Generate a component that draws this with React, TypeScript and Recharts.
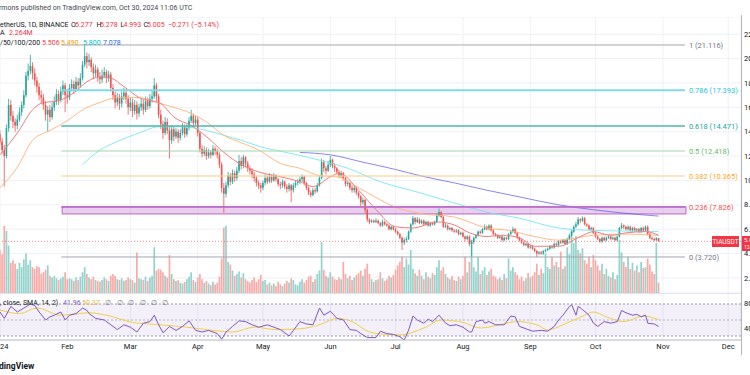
import React from "react"
import {
  ComposedChart,
  Bar,
  Line,
  XAxis,
  YAxis,
  CartesianGrid,
  ReferenceLine,
  ReferenceArea,
} from "recharts"

const FONT = "Roboto, 'Liberation Sans', sans-serif"
const UP = "#26a69a"
const DOWN = "#ef5350"
const RED = "#f23645"

// day index: 0 = Jan 1 2024
const firstOpen = 13.8
const closes = [
  13.2, 12.5, 12.0, 14.3, 16.2, 15.3, 14.8, 14.5, 15.0, 15.6,
  16.2, 17.0, 18.6, 19.0, 19.4, 18.8, 18.2, 17.7, 17.0, 16.8,
  16.2, 15.4, 15.8, 15.2, 16.0, 16.5, 17.1, 16.6, 17.3, 17.8,
  17.0, 16.8, 17.6, 17.9, 17.5, 18.1, 17.8, 18.4, 19.5, 20.2,
  19.7, 19.9, 19.3, 18.8, 19.1, 18.5, 18.3, 18.6, 18.9, 18.4,
  18.7, 17.6, 17.0, 16.4, 16.8, 16.3, 16.9, 17.2, 16.7, 16.0,
  16.4, 15.7, 16.2, 15.5, 16.0, 16.3, 15.8, 16.5, 16.1, 16.7,
  16.9, 17.8, 16.9, 15.4, 14.6, 13.9, 14.8, 14.1, 13.3, 14.2,
  13.6, 14.0, 13.5, 13.9, 14.4, 13.8, 14.3, 14.9, 15.3, 14.7,
  15.0, 13.9, 12.6, 12.2, 12.5, 12.0, 12.3, 12.1, 12.6, 12.4,
  12.1, 11.3, 9.4, 8.9, 9.6, 10.4, 9.9, 10.6, 10.2, 10.8,
  11.6, 11.2, 11.9, 11.4, 11.0, 10.8, 10.5, 10.2, 9.8, 9.6,
  9.4, 9.8, 10.2, 9.9, 10.3, 10.0, 10.4, 10.1, 9.7, 9.6,
  9.9, 9.5, 9.3, 9.6, 9.2, 9.6, 9.8, 9.9, 10.1, 10.3,
  9.8, 9.4, 9.0, 8.8, 9.2, 9.1, 9.6, 10.2, 11.5, 11.0,
  10.8, 11.3, 11.7, 11.2, 11.0, 10.7, 10.4, 10.6, 10.2, 9.7,
  9.8, 9.4, 9.2, 9.4, 9.0, 8.7, 8.2, 8.4, 7.6, 6.8,
  6.6, 6.7, 6.6, 6.7, 6.5, 6.3, 6.6, 6.4, 6.3, 6.0,
  6.2, 6.0, 5.8, 5.6, 5.3, 4.9, 5.1, 5.2, 5.8, 6.4,
  6.9, 6.6, 6.8, 6.5, 6.7, 6.4, 6.6, 6.3, 6.5, 6.4,
  6.6, 7.1, 7.4, 7.0, 6.2, 6.3, 6.0, 6.1, 5.9, 5.8,
  5.9, 5.6, 5.7, 5.4, 5.2, 5.4, 4.8, 4.95, 5.3, 5.5,
  5.8, 5.7, 6.0, 6.2, 6.0, 6.3, 5.9, 5.6, 5.5, 5.3,
  5.4, 5.1, 5.3, 5.2, 5.6, 5.8, 6.0, 5.7, 5.3, 5.1,
  4.9, 4.7, 4.8, 4.5, 4.6, 4.4, 4.2, 4.0, 4.1, 4.0,
  4.2, 4.3, 4.4, 4.6, 4.5, 4.8, 4.7, 5.0, 4.9, 5.1,
  4.8, 5.2, 5.5, 5.8, 6.2, 6.4, 6.8, 6.7, 6.9, 6.4,
  6.3, 6.0, 6.1, 5.7, 5.4, 5.2, 5.0, 5.3, 5.1, 5.3,
  5.4, 5.2, 5.3, 5.1, 5.4, 6.1, 6.3, 6.2, 6.0, 6.2,
  5.9, 6.1, 5.9, 6.0, 5.8, 6.1, 5.9, 6.2, 5.6, 5.3,
  5.2, 5.1, 5.277, 5.005,
]
const highs = [
  14.1, 13.5, 12.9, 14.6, 16.7, 16.6, 15.7, 15.1, 15.4, 16.0,
  16.5, 17.4, 18.9, 19.6, 20.3, 19.7, 19.2, 18.5, 18.0, 17.4,
  17.1, 16.5, 16.1, 16.2, 16.4, 16.9, 17.5, 17.4, 17.7, 18.2,
  18.0, 17.5, 17.9, 18.3, 18.2, 18.5, 18.4, 18.8, 19.8, 21.116,
  20.5, 20.4, 20.1, 19.6, 19.5, 19.3, 18.9, 19.1, 19.3, 19.1,
  19.0, 18.9, 17.9, 17.3, 17.2, 17.1, 17.3, 17.6, 17.5, 17.0,
  16.8, 16.7, 16.6, 16.5, 16.3, 16.7, 16.6, 16.9, 16.8, 17.1,
  17.4, 18.4, 18.0, 17.1, 15.8, 14.9, 15.2, 15.1, 14.4, 14.5,
  14.4, 14.3, 14.2, 14.2, 14.7, 14.6, 14.6, 15.2, 15.8, 15.5,
  15.3, 15.2, 14.0, 12.9, 12.8, 12.7, 12.6, 12.5, 12.9, 12.8,
  12.6, 12.3, 11.5, 9.8, 9.9, 10.7, 10.6, 10.9, 10.8, 11.1,
  12.1, 11.9, 12.1, 12.0, 11.6, 11.2, 11.0, 10.7, 10.4, 10.0,
  9.8, 10.0, 10.5, 10.4, 10.6, 10.5, 10.6, 10.5, 10.2, 9.9,
  10.1, 10.0, 9.7, 9.8, 9.7, 9.8, 10.0, 10.1, 10.3, 10.5,
  10.4, 9.9, 9.5, 9.2, 9.4, 9.4, 9.8, 10.4, 11.8, 11.7,
  11.2, 11.6, 12.0, 11.8, 11.4, 11.1, 10.9, 10.8, 10.7, 10.3,
  10.0, 9.9, 9.6, 9.6, 9.5, 9.1, 8.8, 8.6, 8.5, 7.7,
  6.9, 6.8, 6.8, 6.9, 6.8, 6.6, 6.8, 6.7, 6.5, 6.4,
  6.3, 6.3, 6.1, 5.9, 5.7, 5.4, 5.3, 5.4, 5.9, 6.5,
  7.1, 7.0, 7.0, 6.9, 6.8, 6.8, 6.7, 6.7, 6.6, 6.6,
  6.7, 7.3, 7.7, 7.5, 7.1, 6.5, 6.4, 6.2, 6.2, 6.0,
  6.0, 6.0, 5.8, 5.8, 5.5, 5.5, 5.5, 5.1, 5.4, 5.6,
  5.9, 5.9, 6.1, 6.4, 6.3, 6.4, 6.4, 6.0, 5.7, 5.6,
  5.5, 5.5, 5.4, 5.4, 5.7, 5.9, 6.2, 6.1, 5.8, 5.4,
  5.2, 5.0, 4.9, 4.9, 4.7, 4.7, 4.5, 4.3, 4.2, 4.2,
  4.3, 4.4, 4.5, 4.7, 4.7, 4.9, 4.9, 5.1, 5.1, 5.2,
  5.2, 5.3, 5.6, 5.9, 6.3, 6.6, 7.0, 6.9, 7.05, 7.0,
  6.5, 6.4, 6.2, 6.2, 5.8, 5.5, 5.3, 5.4, 5.4, 5.4,
  5.5, 5.5, 5.4, 5.4, 5.5, 6.2, 6.5, 6.4, 6.3, 6.3,
  6.3, 6.2, 6.2, 6.1, 6.1, 6.2, 6.2, 6.3, 6.3, 5.7,
  5.4, 5.3, 5.35, 5.278,
]
const lows = [
  12.9, 12.2, 9.5, 11.8, 14.0, 14.9, 14.3, 14.0, 14.2, 14.8,
  15.3, 15.9, 16.8, 18.2, 18.7, 18.3, 17.8, 17.2, 16.6, 16.3,
  15.8, 14.9, 14.0, 14.8, 15.0, 15.7, 16.2, 16.2, 16.4, 17.0,
  15.6, 16.3, 16.6, 17.3, 17.1, 17.3, 17.4, 17.6, 18.2, 19.3,
  19.2, 19.4, 18.9, 18.3, 18.5, 18.1, 17.9, 18.0, 18.4, 18.0,
  18.1, 17.3, 16.6, 15.9, 16.1, 15.8, 16.0, 16.6, 16.3, 15.4,
  15.7, 15.2, 15.4, 15.0, 15.2, 15.7, 15.4, 15.6, 15.8, 15.9,
  16.4, 16.7, 16.5, 15.1, 14.2, 13.4, 13.7, 13.8, 11.8, 13.0,
  13.2, 13.4, 13.1, 13.3, 13.7, 13.5, 13.6, 14.1, 14.7, 14.4,
  14.5, 13.6, 12.3, 11.9, 12.0, 11.7, 11.8, 11.8, 12.0, 12.1,
  11.8, 11.0, 9.0, 7.35, 8.6, 9.4, 9.6, 9.7, 9.9, 10.0,
  10.6, 10.9, 11.0, 11.1, 10.7, 10.5, 10.2, 9.9, 9.5, 9.3,
  9.0, 9.2, 9.6, 9.7, 9.8, 9.8, 9.9, 9.9, 9.5, 9.3,
  9.4, 9.3, 9.0, 9.1, 8.2, 9.0, 9.4, 9.6, 9.7, 9.9,
  9.6, 9.2, 8.8, 8.6, 8.7, 8.9, 9.0, 9.5, 10.1, 10.7,
  10.5, 10.7, 11.1, 11.0, 10.7, 10.5, 10.2, 10.2, 10.0, 9.5,
  9.5, 9.2, 9.0, 9.0, 8.8, 8.5, 7.9, 8.0, 7.3, 6.6,
  6.4, 6.5, 6.5, 6.5, 6.4, 6.2, 6.2, 6.3, 6.2, 5.9,
  5.9, 5.9, 5.7, 5.5, 5.2, 4.3, 4.7, 4.9, 5.1, 5.7,
  6.3, 6.4, 6.5, 6.4, 6.4, 6.3, 6.3, 6.2, 6.2, 6.3,
  6.3, 6.5, 7.0, 6.9, 6.1, 6.1, 5.9, 5.9, 5.8, 5.7,
  5.7, 5.5, 5.5, 5.3, 5.0, 5.1, 4.6, 3.75, 4.8, 5.2,
  5.4, 5.6, 5.6, 5.9, 5.9, 5.9, 5.8, 5.5, 5.4, 5.2,
  5.2, 5.0, 5.0, 5.1, 5.1, 5.5, 5.7, 5.6, 5.2, 5.0,
  4.8, 4.6, 4.6, 4.4, 4.4, 4.3, 4.1, 3.72, 3.9, 3.9,
  3.9, 4.1, 4.2, 4.3, 4.4, 4.4, 4.6, 4.6, 4.8, 4.8,
  4.7, 4.7, 5.1, 5.4, 5.7, 6.1, 6.3, 6.5, 6.6, 6.3,
  6.2, 5.9, 5.9, 5.6, 5.3, 5.1, 4.9, 4.9, 5.0, 5.0,
  5.2, 5.1, 5.1, 5.0, 5.0, 5.3, 6.0, 6.0, 5.9, 5.9,
  5.8, 5.8, 5.8, 5.8, 5.7, 5.7, 5.8, 5.8, 5.5, 5.2,
  5.1, 5.0, 5.05, 4.993,
]
// volume, millions
const volumes = [
  5.0, 4.5, 7.8, 7.2, 5.5, 3.5, 3.8, 3.4, 2.8, 3.5,
  3.0, 3.9, 4.6, 3.3, 3.8, 3.0, 2.8, 3.1, 3.0, 2.2,
  2.4, 2.7, 3.2, 2.0, 1.8, 2.0, 1.7, 1.5, 1.7, 1.9,
  2.4, 1.6, 1.7, 1.6, 1.4, 1.8, 1.5, 1.9, 2.4, 3.0,
  2.2, 1.8, 1.6, 1.9, 1.5, 1.4, 1.3, 1.5, 1.8, 1.6,
  1.4, 2.0, 2.2, 2.0, 1.6, 1.5, 1.7, 1.4, 1.5, 1.8,
  1.6, 1.5, 1.2, 4.7, 1.7, 1.6, 1.5, 1.9, 1.4, 1.8,
  2.0, 5.3, 2.6, 2.8, 2.7, 2.4, 2.0, 1.8, 4.4, 2.2,
  1.6, 1.4, 1.5, 1.2, 1.1, 1.3, 1.6, 1.9, 2.4, 1.5,
  1.3, 1.8, 2.2, 1.6, 1.2, 1.4, 1.1, 0.9, 1.3, 1.0,
  1.2, 1.9, 4.0, 7.6, 7.8, 3.6, 3.3, 2.6, 2.0, 2.2,
  2.5, 1.8, 2.3, 1.6, 1.4, 1.2, 1.5, 1.8, 1.3, 1.6,
  2.1, 1.4, 1.5, 1.0, 1.2, 0.9, 1.1, 0.8, 1.3, 1.0,
  0.8, 1.1, 1.4, 1.2, 1.7, 1.5, 1.0, 0.9, 1.3, 1.6,
  1.2, 1.5, 1.9, 2.0, 1.3, 1.6, 2.2, 2.6, 5.9, 2.7,
  2.0, 1.8, 2.4, 1.9, 1.6, 1.5, 1.8, 1.6, 3.6, 2.2,
  1.7, 2.0, 1.5, 1.8, 2.1, 2.3, 2.6, 2.0, 2.8, 3.4,
  2.2, 1.6, 1.3, 1.5, 1.6, 2.4, 1.7, 1.4, 1.6, 2.0,
  1.8, 2.1, 2.7, 3.2, 3.6, 4.2, 3.0, 4.0, 3.3, 5.0,
  2.8, 2.3, 2.0, 2.7, 2.0, 1.6, 2.4, 1.9, 1.7, 2.3,
  2.1, 3.0, 3.8, 2.6, 3.0, 2.2, 1.8, 1.6, 2.0, 1.5,
  1.4, 1.9, 1.6, 2.0, 4.2, 2.4, 3.6, 6.2, 3.0, 2.5,
  4.2, 2.2, 2.6, 3.0, 2.1, 2.5, 2.8, 2.0, 1.9, 1.6,
  1.8, 1.5, 2.2, 1.7, 4.0, 2.6, 3.0, 2.4, 2.1, 1.6,
  1.9, 1.4, 1.7, 2.3, 1.8, 2.0, 2.4, 3.4, 2.1, 2.8,
  2.3, 4.6, 3.0, 2.8, 4.2, 3.2, 3.6, 3.0, 4.8, 2.8,
  3.1, 5.3, 4.5, 7.3, 5.8, 6.6, 5.0, 4.6, 5.2, 3.8,
  3.4, 4.2, 3.0, 4.4, 3.8, 3.2, 2.6, 3.4, 2.2, 2.8,
  2.0, 1.8, 2.4, 1.6, 2.1, 6.2, 4.7, 3.6, 3.0, 4.2,
  2.8, 3.5, 2.6, 3.2, 2.4, 3.6, 2.9, 3.0, 4.0, 3.3,
  2.5, 2.2, 5.8, 1.2,
]

// moving averages (day, value)
const ma20Days = [0, 8, 15, 20, 26, 34, 40, 46, 51, 57, 64, 74, 80, 88, 95, 103, 111, 119, 129, 138, 144, 152, 156, 165, 173, 182, 190, 201, 209, 216, 224, 231, 239, 246, 257, 267, 273, 281, 288, 297, 303]
const ma20Vals = [12.1, 13.9, 15.8, 16.4, 16.5, 17.2, 18.1, 18.5, 18.4, 17.7, 16.8, 16.3, 15.2, 14.5, 13.6, 12.3, 11.3, 10.7, 10.3, 9.9, 9.5, 10.3, 10.6, 9.2, 7.6, 6.2, 6.1, 6.6, 6.35, 5.7, 5.4, 5.5, 5.3, 4.6, 4.6, 5.4, 5.8, 5.5, 5.7, 5.8, 5.506]
const ma50Days = [0, 8, 15, 23, 31, 38, 46, 54, 64, 72, 80, 88, 95, 103, 111, 119, 129, 138, 147, 155, 164, 173, 182, 193, 209, 224, 234, 246, 257, 273, 288, 303]
const ma50Vals = [9.4, 11.1, 13.3, 14.1, 14.9, 15.8, 16.4, 16.8, 16.8, 16.4, 16.0, 15.5, 14.8, 13.7, 13.1, 12.5, 11.4, 11.0, 10.4, 10.3, 9.5, 8.6, 7.8, 7.3, 7.0, 6.1, 5.9, 5.4, 5.1, 5.5, 5.6, 5.49]
const ma100Days = [38, 46, 54, 64, 73, 84, 95, 103, 111, 120, 129, 144, 160, 175, 193, 209, 224, 239, 257, 273, 288, 303]
const ma100Vals = [11.3, 12.5, 13.2, 13.9, 14.4, 14.4, 14.1, 13.7, 13.3, 12.75, 12.4, 11.8, 11.0, 9.9, 9.0, 8.15, 7.4, 6.9, 6.1, 5.9, 5.85, 5.8]
const ma200Days = [138, 152, 167, 182, 193, 209, 224, 239, 257, 273, 288, 303]
const ma200Vals = [12.3, 12.1, 11.5, 10.9, 10.4, 9.8, 9.2, 8.65, 8.0, 7.6, 7.3, 7.078]

// RSI(14) and its SMA
const rsiDays = [0, 2, 5, 8, 11, 14, 16, 18, 21, 23, 25, 28, 30, 32, 35, 38, 40, 41, 44, 48, 51, 54, 57, 60, 63, 66, 69, 71, 73, 75, 78, 81, 84, 87, 90, 93, 96, 100, 102, 104, 107, 110, 113, 116, 119, 123, 126, 129, 133, 135, 138, 141, 144, 147, 149, 152, 155, 158, 161, 164, 166, 169, 173, 175, 178, 181, 184, 186, 188, 190, 192, 195, 197, 199, 202, 205, 207, 210, 213, 216, 217, 219, 222, 223, 225, 228, 232, 235, 237, 239, 242, 245, 249, 252, 255, 257, 259, 262, 263, 265, 266, 268, 271, 273, 275, 278, 281, 284, 286, 288, 291, 293, 295, 297, 298, 301, 303]
const rsiVals = [60, 52, 67, 60, 65, 70, 68, 60, 50, 54, 56, 60, 50, 56, 58, 65, 62, 58, 52, 50, 44, 38, 44, 41, 35, 46, 48, 56, 44, 34, 42, 37, 42, 49, 37, 35, 37, 33, 26, 35, 42, 49, 48, 44, 41, 44, 41, 38, 30, 37, 48, 45, 44, 65, 56, 61, 52, 50, 38, 37, 33, 28, 28, 36, 33, 32, 29, 25, 37.5, 55, 50, 46, 51, 48, 56, 46, 43, 44, 41, 35, 35, 48, 50, 46, 48, 44, 44, 55, 54, 42, 39, 36, 37, 36, 42, 50, 56, 67, 69, 56, 67, 63, 56, 46, 42, 48, 46, 48, 62, 59, 56, 57, 54, 56, 46, 45, 41.96]
const rsiMaDays = [0, 9, 17, 28, 41, 49, 61, 74, 86, 98, 107, 117, 127, 138, 147, 155, 162, 170, 178, 184, 195, 203, 213, 221, 233, 238, 247, 252, 259, 269, 273, 279, 287, 296, 303]
const rsiMaVals = [62.5, 58, 65, 56, 59, 56, 47, 44, 41, 37, 35, 41, 38, 39, 44, 52, 48, 35, 32, 31.5, 40, 50, 47, 40, 46, 48, 44, 37.5, 44, 56, 60, 54, 48, 55, 50.37]

// fibonacci retracement levels
const fibLevels = [1, 0.786, 0.618, 0.5, 0.382, 0.236, 0]
const fibPrices = [21.116, 17.393, 14.471, 12.418, 10.365, 7.826, 3.72]
const fibColors = ["#a3a6af", "#7fdbe6", "#4db6ac", "#a5d6a7", "#ffcc80", "#ba68c8", "#a3a6af"]
const fibLabelColors = ["#787b86", "#26c6da", "#26a69a", "#66bb6a", "#ffa726", "#ef5350", "#787b86"]
const fibWidths = [1, 2, 1.5, 1.2, 1.2, 1.5, 1]

const monthTicks = [0, 31, 60, 91, 121, 152, 182, 213, 244, 274, 305, 335]
const monthLabels = ["2024", "Feb", "Mar", "Apr", "May", "Jun", "Jul", "Aug", "Sep", "Oct", "Nov", "Dec"]
const priceTicks = [2, 4, 6, 8, 10, 12, 14, 16, 18, 20, 22]
const rsiTicks = [40, 60, 80]

const X_DOMAIN: [number, number] = [0, 340.9]
const PRICE_DOMAIN: [number, number] = [0.766, 23.413]

const rows = closes.map((c, i) => {
  const o = i === 0 ? firstOpen : closes[i - 1]
  return { d: i, open: o, close: c, high: highs[i], low: lows[i], range: [lows[i], highs[i]], vol: volumes[i] }
})

const pairs = (days: number[], vals: number[]) => days.map((d, i) => ({ d, v: vals[i] }))
const ma20 = pairs(ma20Days, ma20Vals)
const ma50 = pairs(ma50Days, ma50Vals)
const ma100 = pairs(ma100Days, ma100Vals)
const ma200 = pairs(ma200Days, ma200Vals)
const rsi = pairs(rsiDays, rsiVals)
const rsiMa = pairs(rsiMaDays, rsiMaVals)

function Candle(props: any) {
  const { x, y, width, height, payload } = props
  if (!payload || x == null) return null
  const { open, close, high, low } = payload
  const cx = x + width / 2
  const top = Math.min(y, y + height)
  const h = Math.abs(height)
  const k = h / (high - low || 1)
  const yo = top + (high - open) * k
  const yc = top + (high - close) * k
  const color = close >= open ? UP : DOWN
  return (
    <g>
      <line x1={cx} x2={cx} y1={top} y2={top + h} stroke={color} strokeWidth={0.8} />
      <rect x={cx - 0.8} y={Math.min(yo, yc)} width={1.6} height={Math.max(Math.abs(yo - yc), 0.8)} fill={color} />
    </g>
  )
}

function VolBar(props: any) {
  const { x, y, width, height, payload } = props
  if (!payload || x == null) return null
  const cx = x + width / 2
  const fill = payload.close >= payload.open ? "#92d3cc" : "#f8aaa7"
  return <rect x={cx - 0.85} y={Math.min(y, y + height)} width={1.7} height={Math.abs(height)} fill={fill} />
}

function PriceTick({ x, y, payload }: any) {
  return (
    <text x={x} y={y} dy={2.6} fontSize={7.5} fill="#131722" textAnchor="start">
      {payload.value.toFixed(3)}
    </text>
  )
}

function RsiTick({ x, y, payload }: any) {
  return (
    <text x={x} y={y} dy={2.6} fontSize={7.5} fill="#131722" textAnchor="start">
      {payload.value.toFixed(2)}
    </text>
  )
}

function MonthTick({ x, y, payload }: any) {
  const i = monthTicks.indexOf(payload.value)
  return (
    <text x={x} y={y + 9} fontSize={7.5} fill="#131722" textAnchor="middle">
      {monthLabels[i]}
    </text>
  )
}

export default function App() {
  return (
    <div
      style={{
        position: "fixed",
        left: 0,
        top: 0,
        width: 750,
        height: 375,
        background: "#fff",
        overflow: "hidden",
        fontFamily: FONT,
      }}
    >
      {/* grid + volume */}
      <div style={{ position: "absolute", left: 0, top: 17 }}>
        <ComposedChart width={750} height={276} data={rows} margin={{ top: 0, right: 9, bottom: 0, left: 0 }}>
          <XAxis dataKey="d" type="number" domain={X_DOMAIN} allowDataOverflow ticks={monthTicks} hide />
          <YAxis domain={PRICE_DOMAIN} ticks={priceTicks} allowDataOverflow hide />
          <YAxis yAxisId="vol" domain={[0, 32]} hide />
          <CartesianGrid stroke="#eef1f6" />
          <Bar yAxisId="vol" dataKey="vol" barSize={2} shape={<VolBar />} isAnimationActive={false} />
        </ComposedChart>
      </div>

      {/* price pane */}
      <div style={{ position: "absolute", left: 0, top: 17 }}>
        <ComposedChart width={750} height={276} data={rows} margin={{ top: 0, right: 0, bottom: 0, left: 0 }}>
          <XAxis dataKey="d" type="number" domain={X_DOMAIN} allowDataOverflow ticks={monthTicks} hide />
          <YAxis
            orientation="right"
            width={9}
            domain={PRICE_DOMAIN}
            ticks={priceTicks}
            allowDataOverflow
            axisLine={false}
            tickLine={false}
            tickSize={0}
            tickMargin={3}
            tick={<PriceTick />}
          />
          <ReferenceLine y={5.005} stroke={RED} strokeOpacity={0.6} strokeDasharray="1 2" />
          <Bar dataKey="range" barSize={2} shape={<Candle />} isAnimationActive={false} />
          <Line data={ma200} dataKey="v" type="monotone" stroke="#5a52e8" strokeOpacity={0.7} strokeWidth={1} dot={false} isAnimationActive={false} />
          <Line data={ma100} dataKey="v" type="monotone" stroke="#6ee6f2" strokeOpacity={0.85} strokeWidth={1} dot={false} isAnimationActive={false} />
          <Line data={ma50} dataKey="v" type="monotone" stroke="#ffb37a" strokeOpacity={0.9} strokeWidth={1} dot={false} isAnimationActive={false} />
          <Line data={ma20} dataKey="v" type="monotone" stroke="#f07c7c" strokeWidth={1} dot={false} isAnimationActive={false} />
          <ReferenceArea x1={28.6} x2={315.6} y1={7.25} y2={7.85} fill="#ce93d8" fillOpacity={0.45} stroke="#ab47bc" strokeOpacity={0.8} />
          {fibLevels.map((lv, i) => (
            <ReferenceLine
              key={lv}
              segment={[
                { x: 28.2, y: fibPrices[i] },
                { x: 315.1, y: fibPrices[i] },
              ]}
              stroke={fibColors[i]}
              strokeWidth={fibWidths[i]}
              label={{
                value: `${lv} (${fibPrices[i].toFixed(3)})`,
                position: "right",
                offset: 4,
                fill: fibLabelColors[i],
                fontSize: 7.5,
              }}
            />
          ))}
        </ComposedChart>
      </div>

      {/* RSI pane */}
      <div style={{ position: "absolute", left: 0, top: 294 }}>
        <ComposedChart width={750} height={62} margin={{ top: 0, right: 0, bottom: 0, left: 0 }}>
          <XAxis
            dataKey="d"
            type="number"
            domain={X_DOMAIN}
            allowDataOverflow
            ticks={monthTicks}
            interval={0}
            height={16}
            axisLine={{ stroke: "#b2b5be" }}
            tickLine={false}
            tickSize={0}
            tickMargin={0}
            tick={<MonthTick />}
          />
          <YAxis
            orientation="right"
            width={9}
            domain={[25, 82.5]}
            ticks={rsiTicks}
            allowDataOverflow
            axisLine={false}
            tickLine={false}
            tickSize={0}
            tickMargin={3}
            tick={<RsiTick />}
          />
          <CartesianGrid stroke="#eef1f6" horizontal={false} />
          <ReferenceArea y1={30} y2={70} fill="#7e57c2" fillOpacity={0.09} />
          <ReferenceLine y={70} stroke="#9598a1" strokeDasharray="2 2" />
          <ReferenceLine y={50} stroke="#b2b5be" strokeDasharray="2 2" />
          <ReferenceLine y={30} stroke="#9598a1" strokeDasharray="2 2" />
          <Line data={rsiMa} dataKey="v" type="monotone" stroke="#f2cf4a" strokeWidth={1} dot={false} isAnimationActive={false} />
          <Line data={rsi} dataKey="v" type="linear" stroke="#7e57c2" strokeWidth={1} dot={false} isAnimationActive={false} />
        </ComposedChart>
      </div>

      {/* pane borders */}
      <div style={{ position: "absolute", left: 0, top: 293, width: 741, height: 1, background: "#e0e3eb" }} />
      <div style={{ position: "absolute", left: 741, top: 15, width: 1, height: 340, background: "#b2b5be" }} />

      {/* texts */}
      <svg width={750} height={375} style={{ position: "absolute", left: 0, top: 0 }}>
        <text x={-1} y={10} fontSize={7} fill="#434651">
          rmons published on TradingView.com, Oct 30, 2024 11:06 UTC
        </text>
        <g fontSize={7}>
          <text x={0} y={26.5} fill="#131722">etherUS, 1D, BINANCE</text>
          <text x={71} y={26.5} fill="#131722">O</text>
          <text x={75} y={26.5} fill={RED}>5.277</text>
          <text x={96.5} y={26.5} fill="#131722">H</text>
          <text x={100} y={26.5} fill={RED}>5.278</text>
          <text x={120.5} y={26.5} fill="#131722">L</text>
          <text x={123.5} y={26.5} fill={RED}>4.993</text>
          <text x={143.5} y={26.5} fill="#131722">C</text>
          <text x={147} y={26.5} fill={RED}>5.005</text>
          <text x={168} y={26.5} fill={RED}>−0.271 (−5.14%)</text>

          <text x={0} y={35} fill="#131722">A</text>
          <text x={9} y={35} fill={RED}>2.264M</text>

          <text x={0} y={44.5} fill="#131722">/50/100/200</text>
          <text x={42} y={44.5} fill={RED}>5.506</text>
          <text x={61} y={44.5} fill="#ff9800">5.490</text>
          <text x={83} y={44.5} fill="#00bcd4">5.800</text>
          <text x={103} y={44.5} fill="#2962ff">7.078</text>

          <text x={0} y={304.5} fill="#131722">, close, SMA, 14, 2)</text>
          <text x={63} y={304.5} fill="#7e57c2">41.96</text>
          <text x={82} y={304.5} fill="#e2b93b">50.37</text>
          {[105, 116.5, 128, 139.5, 150.5, 161.5].map((x) => (
            <text key={x} x={x} y={304.5} fill="#787b86">∅</text>
          ))}
        </g>
        <rect x={712} y={236} width={27} height={11} fill={RED} />
        <text x={725.5} y={243.6} fontSize={6.5} fill="#fff" textAnchor="middle">TIAUSDT</text>
        <rect x={742} y={236} width={8} height={15} fill={RED} />
        <text x={744} y={242} fontSize={6} fill="#fff">5.005</text>
        <text x={744} y={248.5} fontSize={5} fill="#fff">12:53:54</text>
        <text x={-1} y={369} fontSize={8.5} fontWeight="bold" fill="#131722">dingView</text>
      </svg>
    </div>
  )
}
